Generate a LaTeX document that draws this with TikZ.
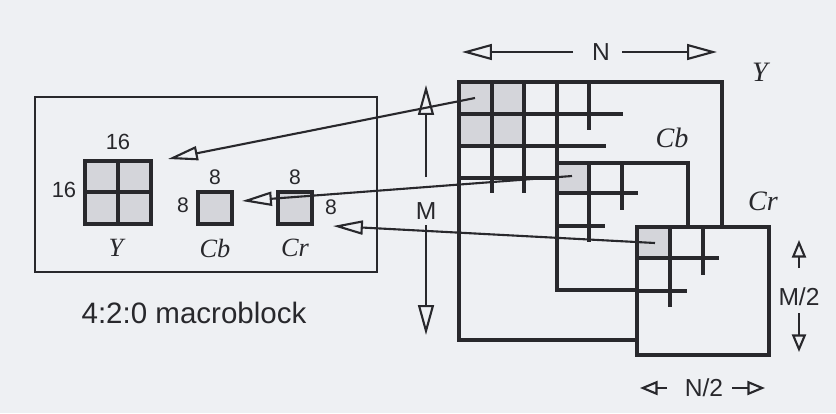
\documentclass[tikz,border=0pt]{standalone}
\usepackage{fontspec}
\setmainfont{Liberation Sans}
\newfontfamily\compfont{Liberation Serif}
\usetikzlibrary{arrows.meta}
\definecolor{paper}{RGB}{238,240,243}
\definecolor{ink}{RGB}{40,40,44}
\definecolor{dotgray}{RGB}{212,213,218}
\newcommand{\fsz}[1]{\fontsize{#1}{#1}\selectfont}

\begin{document}
\begin{tikzpicture}[x=0.02cm, y=-0.02cm,
    box/.style={draw=ink, line width=2pt},
    gridline/.style={draw=ink, line width=1.8pt},
    ptr/.style={draw=ink, line width=1.2pt, -{Triangle[open, length=17pt, width=8pt, line width=1.2pt]}},
    dim/.style={draw=ink, line width=1.2pt, -{Triangle[open, length=17pt, width=9pt, line width=1.2pt]}},
    halfdim/.style={draw=ink, line width=1.2pt, -{Triangle[open, length=10pt, width=8pt, line width=1.2pt]}},
    num/.style={text=ink, inner sep=0pt, font=\fsz{12.5}},
    comp/.style={text=ink, inner sep=0pt, font=\compfont\itshape\fsz{15}},
    dimlbl/.style={text=ink, inner sep=0pt, font=\fsz{14}}]
    % background of the page
    \fill[paper] (0,0) rectangle (836,413);
    % 4:2:0 macroblock
    \draw[ink, line width=1.5pt] (35,97) rectangle (377,272);
    \filldraw[box, fill=dotgray] (85,161) rectangle (151,224);
    \draw[box] (118,161) -- (118,224) (85,192) -- (151,192);
    \filldraw[box, fill=dotgray] (198,192) rectangle (232,224);
    \filldraw[box, fill=dotgray] (278,192) rectangle (312,224);
    \node[num] (ytop) at (118,142) {16};
    \node[num] (yleft) at (64,190) {16};
    \node[num, font=\fsz{12}] (cbtop) at (215,177) {8};
    \node[num, font=\fsz{12}] (cbleft) at (183,205) {8};
    \node[num, font=\fsz{12}] (crtop) at (295,177) {8};
    \node[num, font=\fsz{12}] (crright) at (331,207) {8};
    \node[comp] (ymb) at (116,248) {Y};
    \node[comp] (cbmb) at (215,248) {Cb};
    \node[comp] (crmb) at (295,248) {Cr};
    \node[text=ink, font=\fsz{16.8}] (mblabel) at (194,313) {4:2:0 macroblock};
    % Y plane
    \fill[dotgray] (459,82) rectangle (524,146);
    \draw[box] (459,82) rectangle (722,340);
    \draw[gridline] (492,82) -- (492,193) (524,82) -- (524,193)
        (557,82) -- (557,163) (589,82) -- (589,130);
    \draw[gridline] (459,114) -- (623,114) (459,146) -- (606,146)
        (459,178) -- (557,178);
    % Cb plane
    \filldraw[box, fill=paper] (557,163) rectangle (688,290);
    \fill[dotgray] (558,164) rectangle (589,193);
    \draw[gridline] (589,163) -- (589,242) (622,163) -- (622,210)
        (557,193) -- (638,193) (557,226) -- (605,226);
    \draw[box] (557,163) rectangle (688,290);
    % Cr plane
    \filldraw[box, fill=paper] (637,227) rectangle (769,355);
    \fill[dotgray] (638,228) rectangle (670,258);
    \draw[gridline] (670,227) -- (670,307) (703,227) -- (703,275)
        (637,258) -- (719,258) (637,291) -- (687,291);
    \draw[box] (637,227) rectangle (769,355);
    \node[comp, font=\compfont\itshape\fsz{16}] (yplane) at (760,72) {Y};
    \node[comp, font=\compfont\itshape\fsz{16}] (cbplane) at (672,138) {Cb};
    \node[comp, font=\compfont\itshape\fsz{16}] (crplane) at (763,201) {Cr};
    % pointers from the planes to the macroblock
    \coordinate (ysrc) at (475,98);
    \coordinate (ydst) at (168,159);
    \coordinate (cbsrc) at (572,176);
    \coordinate (cbdst) at (242,201);
    \coordinate (crsrc) at (655,243);
    \coordinate (crdst) at (333,226);
    \draw[ptr] (ysrc) -- (ydst);
    \draw[ptr] (cbsrc) -- (cbdst);
    \draw[ptr] (crsrc) -- (crdst);
    % plane dimensions
    \node[dimlbl] (nlbl) at (601,52) {N};
    \coordinate (nl) at (573,52); \coordinate (nltip) at (462,52);
    \coordinate (nr) at (622,52); \coordinate (nrtip) at (717,52);
    \draw[dim] (nl) -- (nltip);
    \draw[dim] (nr) -- (nrtip);
    \node[dimlbl] (mlbl) at (426,211) {M};
    \coordinate (mt) at (426,177); \coordinate (mttip) at (426,85);
    \coordinate (mb) at (426,225); \coordinate (mbtip) at (426,335);
    \draw[dim] (mt) -- (mttip);
    \draw[dim] (mb) -- (mbtip);
    \node[dimlbl] (mhalf) at (799,297) {M/2};
    \coordinate (ht) at (799,268); \coordinate (httip) at (799,240);
    \coordinate (hb) at (799,313); \coordinate (hbtip) at (799,352);
    \draw[halfdim] (ht) -- (httip);
    \draw[halfdim] (hb) -- (hbtip);
    \node[dimlbl] (nhalf) at (704,388) {N/2};
    \coordinate (wl) at (667,388); \coordinate (wltip) at (640,388);
    \coordinate (wr) at (732,388); \coordinate (wrtip) at (765,388);
    \draw[halfdim] (wl) -- (wltip);
    \draw[halfdim] (wr) -- (wrtip);
\end{tikzpicture}
\end{document}
